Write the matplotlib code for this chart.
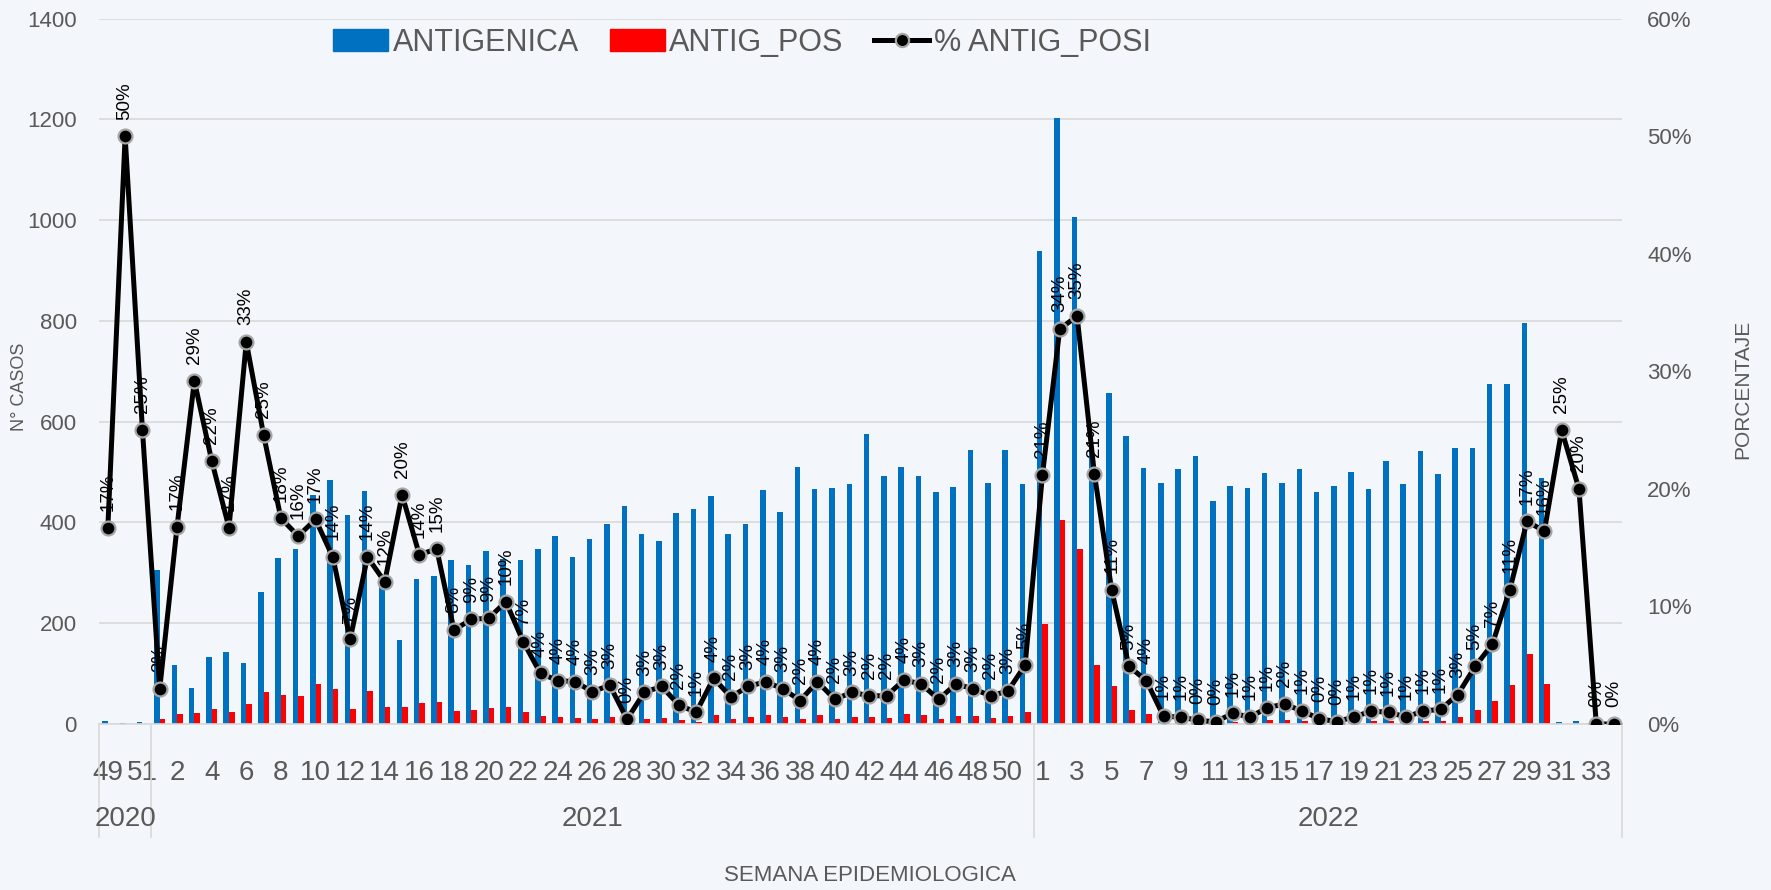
import numpy as np
import matplotlib.pyplot as plt
from matplotlib.patches import Patch
from matplotlib.lines import Line2D
from matplotlib.ticker import FuncFormatter

plt.rcParams['font.family'] = ['Liberation Sans Narrow', 'Liberation Sans', 'DejaVu Sans']

# semanas epidemiologicas
weeks_2020 = [49, 50, 51]
weeks_2021 = list(range(1, 52))
weeks_2022 = list(range(1, 35))
years = ["2020", "2021", "2022"]

antigenica = [6, 2, 4,
              306, 118, 71, 133, 142, 121, 262, 329, 348, 454, 485, 415, 462, 278, 167, 288,
              293, 325, 315, 343, 328, 325, 348, 374, 332, 368, 398, 432, 378, 364, 419, 426,
              453, 378, 398, 464, 421, 511, 467, 469, 477, 575, 493, 511, 493, 460, 471, 544,
              479, 544, 477,
              938, 1202, 1006, 548, 658, 571, 508, 479, 506, 531, 443, 473, 468, 498, 478, 507,
              461, 473, 500, 467, 523, 477, 541, 496, 548, 548, 675, 675, 796, 488, 4, 5, 0, 0]

antig_pos = [1, 1, 1,
             9, 20, 21, 30, 24, 39, 64, 58, 55, 79, 69, 30, 65, 34, 33, 42,
             44, 26, 28, 31, 34, 23, 15, 14, 12, 10, 13, 2, 10, 12, 7, 4,
             18, 9, 13, 17, 13, 10, 17, 10, 13, 14, 12, 19, 17, 10, 16, 16,
             12, 15, 24,
             198, 404, 348, 117, 75, 27, 19, 3, 3, 2, 1, 4, 3, 7, 8, 6,
             2, 1, 3, 5, 5, 3, 6, 6, 14, 27, 46, 77, 138, 80, 1, 1, 0, 0]

pct_posi = [16.7, 50, 25,
            3.0, 16.8, 29.2, 22.4, 16.7, 32.5, 24.6, 17.5, 16.0, 17.4, 14.2, 7.2, 14.2, 12.1, 19.5, 14.4,
            14.9, 8.0, 8.9, 9.0, 10.4, 7.0, 4.3, 3.7, 3.6, 2.75, 3.3, 0.4, 2.7, 3.2, 1.6, 1.0,
            3.9, 2.3, 3.2, 3.6, 3.0, 2.0, 3.6, 2.1, 2.7, 2.4, 2.4, 3.75, 3.4, 2.1, 3.4, 3.0,
            2.4, 2.8, 5.0,
            21.2, 33.6, 34.7, 21.3, 11.4, 4.9, 3.7, 0.65, 0.6, 0.3, 0.2, 0.9, 0.6, 1.4, 1.7, 1.1,
            0.45, 0.2, 0.6, 1.1, 1.0, 0.6, 1.1, 1.25, 2.5, 4.9, 6.8, 11.4, 17.25, 16.4, 25, 20, 0, 0]

blue = "#0070C0"
red = "#FF0000"
grey_txt = "#595959"
grid_c = "#d9d9d9"
bg = "#f3f6fb"

weeks = weeks_2020 + weeks_2021 + weeks_2022
groups = [weeks_2020, weeks_2021, weeks_2022]
n = len(weeks)
x = np.arange(n)
w = 0.32

fig = plt.figure(figsize=(17.71, 8.9), dpi=100, facecolor=bg)
ax = fig.add_axes([0.056, 0.1865, 0.86, 0.7925])
ax.set_facecolor("none")

ax.bar(x - w / 2, antigenica, w, color=blue, zorder=2)
ax.bar(x + w / 2, antig_pos, w, color=red, zorder=2)

ax.set_xlim(-0.5, n - 0.5)
ax.set_ylim(0, 1400)
ax.set_yticks(range(0, 1401, 200))
ax.yaxis.grid(True, color=grid_c, lw=1.2, zorder=0)
ax.set_axisbelow(True)
for s in ["top", "left", "right"]:
    ax.spines[s].set_visible(False)
ax.spines["bottom"].set_color(grid_c)
ax.spines["bottom"].set_linewidth(1.2)

ax.set_xticks(x[::2])
ax.set_xticklabels([str(v) for v in weeks[::2]])
ax.tick_params(axis="x", length=0, pad=26, labelsize=20, colors=grey_txt)
ax.tick_params(axis="y", length=0, pad=16, labelsize=16, colors=grey_txt)

# separadores y etiquetas de año
trans = ax.get_xaxis_transform()
bounds = [-0.5]
for g in groups:
    bounds.append(bounds[-1] + len(g))
for b in bounds:
    ax.plot([b, b], [0, -0.16], transform=trans, color=grid_c, lw=1.2, clip_on=False)
for i, yr in enumerate(years):
    ax.text((bounds[i] + bounds[i + 1]) / 2, -0.135, yr, transform=trans,
            ha="center", va="center", fontsize=20, color=grey_txt)

ax2 = ax.twinx()
ax2.set_ylim(0, 0.6)
ax2.set_yticks(np.arange(0, 0.61, 0.1))
ax2.yaxis.set_major_formatter(FuncFormatter(lambda v, p: f"{v * 100:.0f}%"))
ax2.tick_params(axis="y", length=0, pad=18, labelsize=16, colors=grey_txt)
for s in ax2.spines.values():
    s.set_visible(False)

pct = np.array(pct_posi) / 100
ax2.plot(x, pct, color="black", lw=3.6, marker="o", ms=10,
         mfc="black", mec="#a6a6a6", mew=1.6, zorder=5)
for xi, p in zip(x, pct_posi):
    ax2.annotate(f"{int(p + 0.5)}%", (xi, p / 100), xytext=(0, 12), textcoords="offset points",
                 rotation=90, ha="center", va="bottom", fontsize=13.5,
                 family=["Liberation Sans", "DejaVu Sans"], zorder=6)

fig.text(0.011, 0.565, "N° CASOS", rotation=90, ha="center", va="center",
         fontsize=13, color=grey_txt)
fig.text(0.984, 0.562, "PORCENTAJE", rotation=90, ha="center", va="center",
         fontsize=15, color=grey_txt)
fig.text(0.491, 0.016, "SEMANA EPIDEMIOLOGICA", ha="center", va="center",
         fontsize=16, color=grey_txt)

handles = [Patch(color=blue, label="ANTIGENICA"),
           Patch(color=red, label="ANTIG_POS"),
           Line2D([], [], color="black", lw=3.6, marker="o", ms=9.5, mfc="black",
                  mec="#a6a6a6", mew=1.6, label="% ANTIG_POSI")]
fig.legend(handles=handles, loc="center", bbox_to_anchor=(0.419, 0.952), ncol=3,
           frameon=False, fontsize=22, handlelength=1.8, handleheight=0.75,
           handletextpad=0.15, columnspacing=1.0, labelcolor=grey_txt)

fig.savefig("out.png", dpi=100, facecolor=bg)
